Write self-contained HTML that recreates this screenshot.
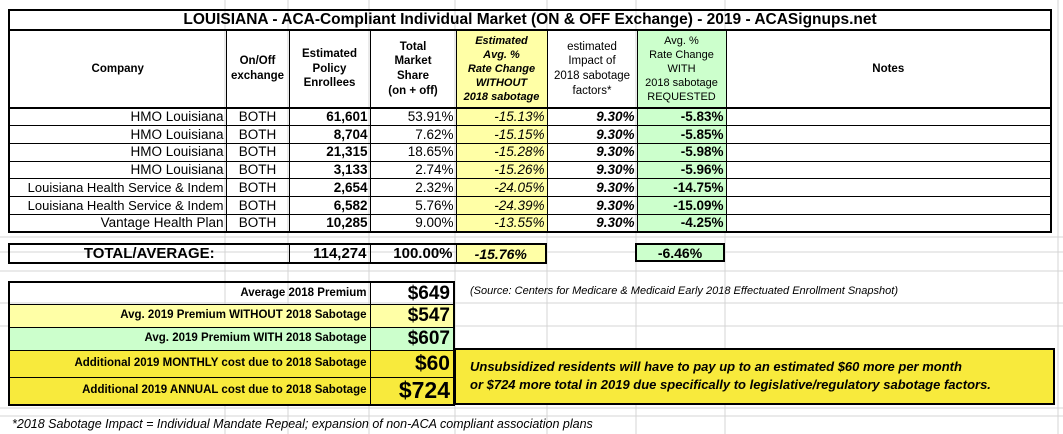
<!DOCTYPE html>
<html><head><meta charset="utf-8"><style>
*{margin:0;padding:0;box-sizing:border-box}
body{width:1063px;height:434px;background:#fff;position:relative;overflow:hidden;font-family:"Liberation Sans",Arial,sans-serif;color:#000}
table{border-collapse:collapse;table-layout:fixed;position:absolute}
td{border:1px solid #000;overflow:hidden;white-space:nowrap;line-height:1}
.hd td{font-weight:bold;font-size:11.5px;text-align:center;line-height:1.28;vertical-align:middle}
.dr td{font-size:13.5px;height:17.7px;padding:0 2px}
.r{text-align:right}.c{text-align:center}
.y{background:#ffffa6}.g{background:#ccffcc}.Y{background:#f8ea3c}
.i{font-style:italic}.b{font-weight:bold}
</style></head><body>
<svg width="1063" height="434" style="position:absolute;left:0;top:0">
<g stroke="#d4d4d4" stroke-width="1">
<line x1="0" y1="237" x2="1063" y2="237"/><line x1="0" y1="252" x2="1063" y2="252"/><line x1="0" y1="271" x2="1063" y2="271"/>
<line x1="0" y1="303" x2="1063" y2="303"/><line x1="0" y1="326" x2="1063" y2="326"/>
<line x1="0" y1="408" x2="1063" y2="408"/><line x1="0" y1="416" x2="1063" y2="416"/>
<line x1="225" y1="0" x2="225" y2="434"/><line x1="288" y1="0" x2="288" y2="434"/><line x1="369" y1="0" x2="369" y2="434"/>
<line x1="455" y1="0" x2="455" y2="434"/><line x1="547" y1="0" x2="547" y2="434"/><line x1="636" y1="0" x2="636" y2="434"/>
<line x1="725" y1="0" x2="725" y2="434"/><line x1="1058" y1="0" x2="1058" y2="434"/>
</g></svg>

<table style="left:8px;top:9px;width:1044px;border:2px solid #000">
<colgroup><col style="width:217px"><col style="width:63px"><col style="width:81px"><col style="width:86px"><col style="width:91px"><col style="width:90px"><col style="width:89px"><col></colgroup>
<tr><td colspan="8" style="height:20px;font-weight:bold;font-size:15.5px;text-align:center;border-bottom:2px solid #000">LOUISIANA - ACA-Compliant Individual Market (ON &amp; OFF Exchange) - 2019 - ACASignups.net</td></tr>
<tr class="hd" style="height:78px;border-bottom:2px solid #000">
<td>Company</td><td>On/Off<br>exchange</td><td>Estimated<br>Policy<br>Enrollees</td><td>Total<br>Market<br>Share<br>(on + off)</td>
<td class="y i" style="font-size:11px">Estimated<br>Avg. %<br>Rate Change<br>WITHOUT<br>2018 sabotage</td>
<td style="font-weight:normal;font-size:11.5px">estimated<br>Impact of<br>2018 sabotage<br>factors*</td>
<td class="g" style="font-weight:normal;font-size:11px">Avg. %<br>Rate Change<br>WITH<br>2018 sabotage<br>REQUESTED</td>
<td>Notes</td></tr>
<tr class="dr"><td class="r">HMO Louisiana</td><td class="c">BOTH</td><td class="r b">61,601</td><td class="r">53.91%</td><td class="r y i">-15.13%</td><td class="r i b">9.30%</td><td class="r g b">-5.83%</td><td></td></tr>
<tr class="dr"><td class="r">HMO Louisiana</td><td class="c">BOTH</td><td class="r b">8,704</td><td class="r">7.62%</td><td class="r y i">-15.15%</td><td class="r i b">9.30%</td><td class="r g b">-5.85%</td><td></td></tr>
<tr class="dr"><td class="r">HMO Louisiana</td><td class="c">BOTH</td><td class="r b">21,315</td><td class="r">18.65%</td><td class="r y i">-15.28%</td><td class="r i b">9.30%</td><td class="r g b">-5.98%</td><td></td></tr>
<tr class="dr"><td class="r">HMO Louisiana</td><td class="c">BOTH</td><td class="r b">3,133</td><td class="r">2.74%</td><td class="r y i">-15.26%</td><td class="r i b">9.30%</td><td class="r g b">-5.96%</td><td></td></tr>
<tr class="dr"><td class="r" style="font-size:13px">Louisiana Health Service &amp; Indem</td><td class="c">BOTH</td><td class="r b">2,654</td><td class="r">2.32%</td><td class="r y i">-24.05%</td><td class="r i b">9.30%</td><td class="r g b">-14.75%</td><td></td></tr>
<tr class="dr"><td class="r" style="font-size:13px">Louisiana Health Service &amp; Indem</td><td class="c">BOTH</td><td class="r b">6,582</td><td class="r">5.76%</td><td class="r y i">-24.39%</td><td class="r i b">9.30%</td><td class="r g b">-15.09%</td><td></td></tr>
<tr class="dr"><td class="r">Vantage Health Plan</td><td class="c">BOTH</td><td class="r b">10,285</td><td class="r">9.00%</td><td class="r y i">-13.55%</td><td class="r i b">9.30%</td><td class="r g b">-4.25%</td><td></td></tr>
</table>

<table style="left:8px;top:243px;width:539px;border:2px solid #000">
<colgroup><col style="width:280px"><col style="width:81px"><col style="width:86px"><col></colgroup>
<tr style="height:19px;font-size:15px;font-weight:bold"><td class="c">TOTAL/AVERAGE:</td><td class="r" style="padding-right:3px">114,274</td><td class="r" style="padding-right:3px">100.00%</td><td class="c y i" style="font-size:14px">-15.76%</td></tr>
</table>
<div class="g b" style="position:absolute;left:635px;top:243px;width:90px;height:19px;border:2px solid #000;font-size:14px;text-align:center;line-height:16px">-6.46%</div>

<table style="left:8px;top:281px;width:447px;border:2px solid #000">
<colgroup><col style="width:361px"><col></colgroup>
<tr style="height:22px"><td class="r b" style="font-size:11.5px;padding-right:3px">Average 2018 Premium</td><td class="r b" style="font-size:19px;padding-right:3px">$649</td></tr>
<tr style="height:23px" class="y"><td class="r b" style="font-size:11.5px;padding-right:3px">Avg. 2019 Premium WITHOUT 2018 Sabotage</td><td class="r b" style="font-size:19px;padding-right:3px">$547</td></tr>
<tr style="height:23px" class="g"><td class="r b" style="font-size:11.5px;padding-right:3px">Avg. 2019 Premium WITH 2018 Sabotage</td><td class="r b" style="font-size:19px;padding-right:3px">$607</td></tr>
<tr style="height:27px" class="Y"><td class="r b" style="font-size:11.5px;padding-right:3px">Additional 2019 MONTHLY cost due to 2018 Sabotage</td><td class="r b" style="font-size:21px;padding-right:3px">$60</td></tr>
<tr style="height:28px" class="Y"><td class="r b" style="font-size:11.5px;padding-right:3px">Additional 2019 ANNUAL cost due to 2018 Sabotage</td><td class="r b" style="font-size:23px;padding-right:3px">$724</td></tr>
</table>
<div class="i" style="position:absolute;left:470px;top:285px;font-size:11px">(Source: Centers for Medicare &amp; Medicaid Early 2018 Effectuated Enrollment Snapshot)</div>
<div class="Y i b" style="position:absolute;left:454px;top:348px;width:601px;height:57px;border:2px solid #000;font-size:13px;line-height:18px;padding:8px 0 0 14px">Unsubsidized residents will have to pay up to an estimated $60 more per month<br>or $724 more total in 2019 due specifically to legislative/regulatory sabotage factors.</div>
<div class="i" style="position:absolute;left:12px;top:417px;font-size:12.5px">*2018 Sabotage Impact = Individual Mandate Repeal; expansion of non-ACA compliant association plans</div>
</body></html>
